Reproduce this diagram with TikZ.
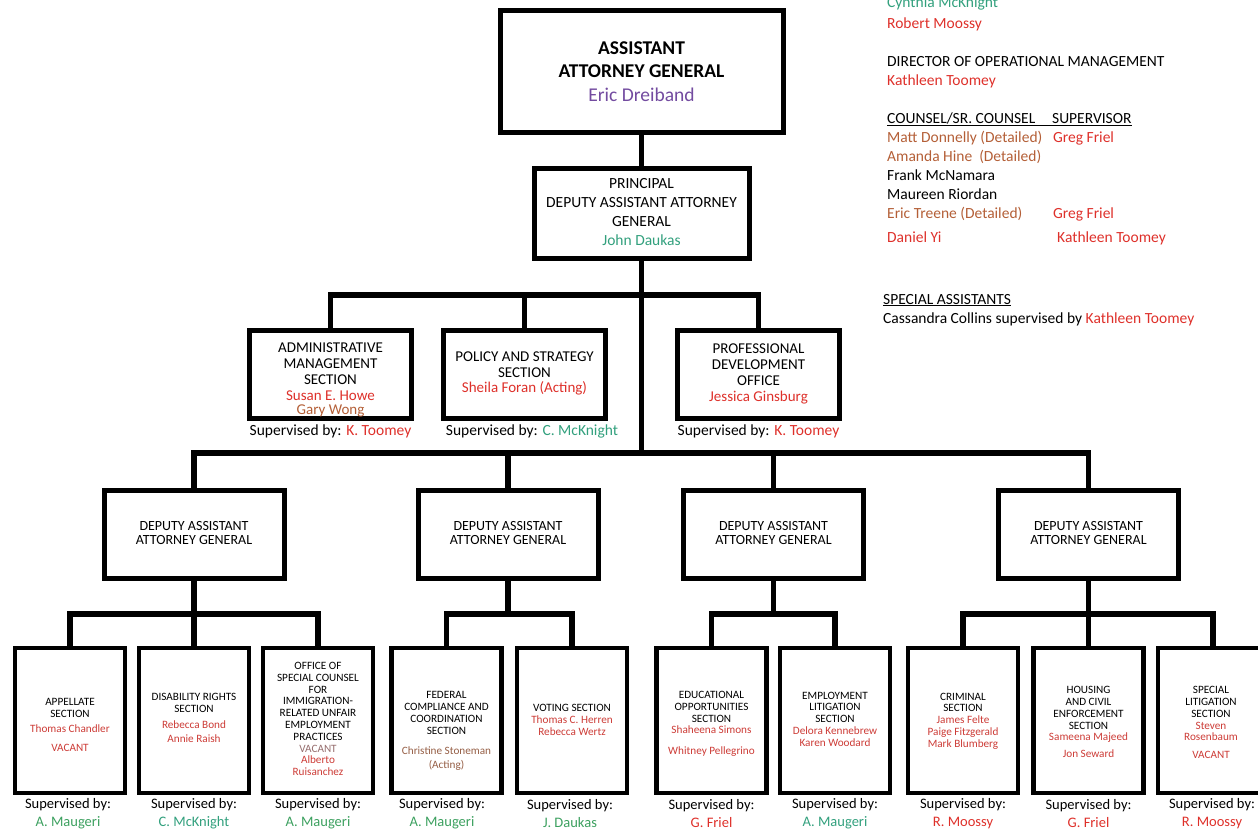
\documentclass[tikz,border=0pt]{standalone}
\usepackage{fontspec}
\setmainfont{Carlito}
\usetikzlibrary{calc}

% name colours
\definecolor{nred}{RGB}{222,48,42}
\definecolor{nteal}{RGB}{50,160,125}
\definecolor{ngreen}{RGB}{60,160,95}
\definecolor{nbrown}{RGB}{180,95,55}
\definecolor{npurple}{RGB}{115,75,160}
\definecolor{nsoftred}{RGB}{205,60,55}
\definecolor{nmud}{RGB}{150,95,70}
\definecolor{ngrey}{RGB}{150,110,110}

\newcommand\cRed[1]{\textcolor{nred}{#1}}
\newcommand\cTeal[1]{\textcolor{nteal}{#1}}
\newcommand\cGrn[1]{\textcolor{ngreen}{#1}}
\newcommand\cBrn[1]{\textcolor{nbrown}{#1}}
\newcommand\cPur[1]{\textcolor{npurple}{#1}}
\newcommand\cSR[1]{\textcolor{nsoftred}{#1}}
\newcommand\cMud[1]{\textcolor{nmud}{#1}}
\newcommand\cGry[1]{\textcolor{ngrey}{#1}}

% type sizes
\newcommand\fAAG{\fontsize{19.5pt}{23.5pt}\selectfont}
\newcommand\fPD{\fontsize{15.5pt}{19pt}\selectfont}
\newcommand\fSec{\fontsize{15pt}{15.8pt}\selectfont}
\newcommand\fSup{\fontsize{15.5pt}{18pt}\selectfont}
\newcommand\fDep{\fontsize{14pt}{14.5pt}\selectfont}
\newcommand\fSm{\fontsize{11.2pt}{11.8pt}\selectfont}
\newcommand\fSupB{\fontsize{14.5pt}{18pt}\selectfont}
\newcommand\fSide{\fontsize{15.5pt}{19pt}\selectfont}

\begin{document}
\begin{tikzpicture}[x=1pt,y=-1pt,line join=miter,
  orgbox/.style={draw=black,line width=5pt,fill=white,inner sep=0pt},
  smallbox/.style={orgbox,line width=4.8pt,minimum width=110pt,minimum height=145pt},
  depbox/.style={orgbox,minimum width=180pt,minimum height=88pt},
  secbox/.style={orgbox,minimum width=162pt,minimum height=88pt},
  link/.style={draw=black,line width=5.5pt},
  txt/.style={inner sep=0pt,align=center},
  side/.style={inner sep=0pt,anchor=base west,font=\fSide}]
\useasboundingbox (0,0) rectangle (1258,833);

% ---- boxes ----
\node[orgbox,minimum width=283pt,minimum height=122pt] (aag) at (641.5,71) {};
\node[orgbox,minimum width=215pt,minimum height=90pt] (pdaag) at (641.5,213) {};

\node[secbox] (admin) at (330.5,374) {};
\node[secbox] (policy) at (524.5,374) {};
\node[secbox] (profdev) at (758.5,374) {};

\node[depbox] (daag1) at (194,534) {};
\node[depbox] (daag2) at (508,534) {};
\node[depbox] (daag3) at (773.5,534) {};
\node[depbox] (daag4) at (1088.5,534) {};

\node[smallbox] (app)  at (70,720.5) {};
\node[smallbox] (dis)  at (194,720.5) {};
\node[smallbox] (osc)  at (318,720.5) {};
\node[smallbox] (fed)  at (446.5,720.5) {};
\node[smallbox] (vot)  at (572,720.5) {};
\node[smallbox] (edu)  at (711.5,720.5) {};
\node[smallbox] (emp)  at (835,720.5) {};
\node[smallbox] (crim) at (963,720.5) {};
\node[smallbox] (hous) at (1088.5,720.5) {};
\node[smallbox] (spec) at (1213,720.5) {};

% ---- junctions ----
\coordinate (j1) at (641.5,295);
\coordinate (j2) at (641.5,453);
\coordinate (k2) at (508,614);
\coordinate (k3) at (773.5,614);
\coordinate (k1) at (194,614);
\coordinate (k4) at (1088.5,614);

% ---- connectors ----
\draw[link] (aag.south) -- (pdaag.north);
\draw[link] (pdaag.south) -- (j2);
\draw[link] (admin.north) |- (j1) -| (profdev.north);
\draw[link] (policy.north) -- (policy.north |- j1);
\draw[link] (daag1.north) |- (j2) -| (daag4.north);
\draw[link] (daag2.north) -- (daag2.north |- j2);
\draw[link] (daag3.north) -- (daag3.north |- j2);

\draw[link] (daag1.south) -- (dis.north);
\draw[link] (app.north) |- (k1) -| (osc.north);
\draw[link] (daag2.south) -- (k2);
\draw[link] (fed.north) |- (k2) -| (vot.north);
\draw[link] (daag3.south) -- (k3);
\draw[link] (edu.north) |- (k3) -| (emp.north);
\draw[link] (daag4.south) -- (hous.north);
\draw[link] (crim.north) |- (k4) -| (spec.north);

% ---- box texts ----
\node[txt,font=\fAAG] (aag-t) at (641.5,71.5)
  {\textbf{ASSISTANT}\\\textbf{ATTORNEY GENERAL}\\\cPur{Eric Dreiband}};
\node[txt,font=\fPD] (pdaag-t) at (641.5,212.5)
  {PRINCIPAL\\DEPUTY ASSISTANT ATTORNEY\\GENERAL\\\cTeal{John Daukas}};

\node[txt,font=\fSec] (admin-t) at (330.5,380)
  {ADMINISTRATIVE\\MANAGEMENT\\SECTION\\\cRed{Susan E. Howe}\\[-2pt]\cBrn{Gary Wong}};
\node[txt,font=\fSec] (policy-t) at (524.5,373.5)
  {POLICY AND STRATEGY\\SECTION\\\cRed{Sheila Foran (Acting)}};
\node[txt,font=\fSec] (profdev-t) at (758.5,374)
  {PROFESSIONAL\\DEVELOPMENT\\OFFICE\\\cRed{Jessica Ginsburg}};

\node[txt,font=\fSup] (admin-s) at (330.5,431) {Supervised by: \cRed{K. Toomey}};
\node[txt,font=\fSup] (policy-s) at (532,431) {Supervised by: \cTeal{C. McKnight}};
\node[txt,font=\fSup] (profdev-s) at (758.5,431) {Supervised by: \cRed{K. Toomey}};

\foreach \d in {daag1,daag2,daag3,daag4}
  \node[txt,font=\fDep] (\d-t) at ($(\d)+(0,-1)$) {DEPUTY ASSISTANT\\ATTORNEY GENERAL};

\node[txt,font=\fSm] (app-t) at (70,725)
  {APPELLATE\\SECTION\\[4pt]\cSR{Thomas Chandler}\\[7pt]\cSR{VACANT}};
\node[txt,font=\fSm] (dis-t) at (194,718)
  {DISABILITY RIGHTS\\SECTION\\[4pt]\cSR{Rebecca Bond}\\[3pt]\cSR{Annie Raish}};
\node[txt,font=\fSm] (osc-t) at (318,719)
  {OFFICE OF\\SPECIAL COUNSEL\\FOR\\IMMIGRATION-\\RELATED UNFAIR\\EMPLOYMENT\\PRACTICES\\\cGry{VACANT}\\\cSR{Alberto}\\\cSR{Ruisanchez}};
\node[txt,font=\fSm] (fed-t) at (446.5,731)
  {FEDERAL\\COMPLIANCE AND\\COORDINATION\\SECTION\\[9pt]\cMud{Christine Stoneman}\\[2pt]\cMud{(Acting)}};
\node[txt,font=\fSm] (vot-t) at (572,720)
  {VOTING SECTION\\\cSR{Thomas C. Herren}\\\cSR{Rebecca Wertz}};
\node[txt,font=\fSm] (edu-t) at (711.5,724)
  {EDUCATIONAL\\OPPORTUNITIES\\SECTION\\\cSR{Shaheena Simons}\\[9pt]\cSR{Whitney Pellegrino}};
\node[txt,font=\fSm] (emp-t) at (835,719)
  {EMPLOYMENT\\LITIGATION\\SECTION\\\cSR{Delora Kennebrew}\\\cSR{Karen Woodard}};
\node[txt,font=\fSm] (crim-t) at (963,721)
  {CRIMINAL\\SECTION\\\cSR{James Felte}\\\cSR{Paige Fitzgerald}\\\cSR{Mark Blumberg}};
\node[txt,font=\fSm] (hous-t) at (1088.5,722)
  {HOUSING\\AND CIVIL\\ENFORCEMENT\\SECTION\\\cSR{Sameena Majeed}\\[5pt]\cSR{Jon Seward}};
\node[txt,font=\fSm] (spec-t) at (1211,722.5)
  {SPECIAL\\LITIGATION\\SECTION\\\cSR{Steven}\\\cSR{Rosenbaum}\\[6pt]\cSR{VACANT}};

% ---- supervisors under the sections ----
\node[txt,font=\fSupB] (app-s)  at (68,814)   {Supervised by:\\\cGrn{A. Maugeri}};
\node[txt,font=\fSupB] (dis-s)  at (194,814)  {Supervised by:\\\cTeal{C. McKnight}};
\node[txt,font=\fSupB] (osc-s)  at (318,814)  {Supervised by:\\\cGrn{A. Maugeri}};
\node[txt,font=\fSupB] (fed-s)  at (442,814)  {Supervised by:\\\cGrn{A. Maugeri}};
\node[txt,font=\fSupB] (vot-s)  at (570,814)  {Supervised by:\\\cGrn{J. Daukas}};
\node[txt,font=\fSupB] (edu-s)  at (711.5,814) {Supervised by:\\\cRed{G. Friel}};
\node[txt,font=\fSupB] (emp-s)  at (835,814)  {Supervised by:\\\cTeal{A. Maugeri}};
\node[txt,font=\fSupB] (crim-s) at (963,814)  {Supervised by:\\\cRed{R. Moossy}};
\node[txt,font=\fSupB] (hous-s) at (1088.5,814) {Supervised by:\\\cRed{G. Friel}};
\node[txt,font=\fSupB] (spec-s) at (1212,814) {Supervised by:\\\cRed{R. Moossy}};

% ---- staff list, upper right ----
\node[side] (r0) at (887,7)   {\cTeal{Cynthia McKnight}};
\node[side] (r1) at (887,28)  {\cRed{Robert Moossy}};
\node[side] (r2) at (887,66)  {DIRECTOR OF OPERATIONAL MANAGEMENT};
\node[side] (r3) at (887,85)  {\cRed{Kathleen Toomey}};
\node[side] (r4) at (887,123) {\underline{\makebox[165pt][l]{COUNSEL/SR. COUNSEL}SUPERVISOR}};
\node[side] (r5) at (887,142) {\makebox[166pt][l]{\cBrn{Matt Donnelly (Detailed)}}\cRed{Greg Friel}};
\node[side] (r6) at (887,161) {\cBrn{Amanda Hine\ \ (Detailed)}};
\node[side] (r7) at (887,180) {Frank McNamara};
\node[side] (r8) at (887,199) {Maureen Riordan};
\node[side] (r9) at (887,218) {\makebox[166pt][l]{\cBrn{Eric Treene (Detailed)}}\cRed{Greg Friel}};
\node[side] (r10) at (887,242) {\makebox[170pt][l]{\cRed{Daniel Yi}}\cRed{Kathleen Toomey}};
\node[side] (r11) at (883,304) {\underline{SPECIAL ASSISTANTS}};
\node[side] (r12) at (883,323) {Cassandra Collins supervised by \cRed{Kathleen Toomey}};
\end{tikzpicture}
\end{document}
